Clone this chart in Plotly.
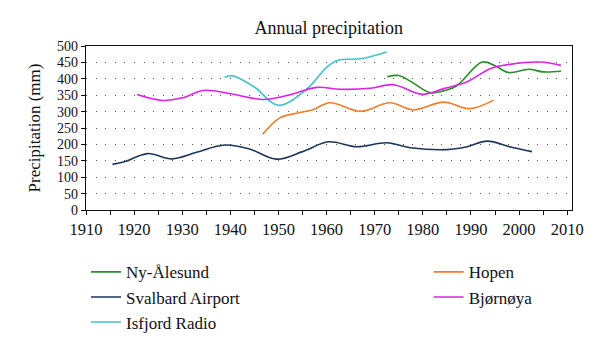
import plotly.graph_objects as go

# ---- data ----
ny_years = [1972.6, 1975, 1977.4, 1981.5, 1984, 1987, 1992.3, 1995, 1997.8, 2002, 2005, 2008.7]
ny_vals = [406, 410, 393, 358, 362, 378, 451, 440, 419, 429, 421, 423]

sv_years = [1915.5, 1918, 1922.8, 1927.9, 1933, 1938.8, 1944, 1949.6, 1955, 1960.4, 1966.3, 1972.5, 1977.4, 1985, 1989, 1993.4, 1998, 2002.7]
sv_vals = [139, 147, 172, 156, 176, 198, 186, 155, 178, 208, 193, 205, 190, 184, 192, 210, 193, 178]

is_years = [1938.8, 1940.5, 1945, 1950, 1956.2, 1960, 1962.5, 1967, 1972.5]
is_vals = [405, 409, 375, 319, 373, 435, 457, 461, 482]

ho_years = [1946.7, 1950.3, 1954.5, 1957, 1960.7, 1967, 1973.2, 1978, 1984.3, 1989.8, 1994.7]
ho_vals = [231, 281, 297, 305, 327, 301, 327, 305, 329, 309, 335]

bj_years = [1920.6, 1925.9, 1930, 1934.6, 1940.5, 1946.9, 1952, 1958, 1962.8, 1969, 1973.9, 1979.8, 1984.3, 1989.1, 1994, 1998.1, 2004.4, 2008.7]
bj_vals = [352, 334, 342, 365, 353, 337, 350, 374, 368, 371, 382, 353, 370, 390, 431, 444, 451, 441]

x_ticks = [1910, 1920, 1930, 1940, 1950, 1960, 1970, 1980, 1990, 2000, 2010]
x_labels = [str(v) for v in x_ticks]
y_ticks = [0, 50, 100, 150, 200, 250, 300, 350, 400, 450, 500]
y_labels = [str(v) for v in y_ticks]

FONT = "Liberation Serif"

series = [
    ("Ny-Ålesund", ny_years, ny_vals, "#2a8f2a", "legend"),
    ("Svalbard Airport", sv_years, sv_vals, "#1c3658", "legend"),
    ("Isfjord Radio", is_years, is_vals, "#45c4c4", "legend"),
    ("Hopen", ho_years, ho_vals, "#f07d2c", "legend2"),
    ("Bjørnøya", bj_years, bj_vals, "#dd22e6", "legend2"),
]

fig = go.Figure()
for i, (name, xs, ys, color, lg) in enumerate(series):
    fig.add_trace(go.Scatter(
        x=xs, y=ys, name=name, mode="lines",
        line=dict(color=color, width=1.6, shape="spline", smoothing=1.0),
        legend=lg, legendgroup=f"g{i}",
    ))

legend_common = dict(
    font=dict(family=FONT, size=17, color="#111"),
    bgcolor="rgba(0,0,0,0)", orientation="v",
    xanchor="left", yanchor="top", tracegroupgap=0,
    itemwidth=30,
)

fig.update_layout(
    width=600, height=350,
    margin=dict(l=86, r=28, t=46, b=140, autoexpand=False),
    paper_bgcolor="white", plot_bgcolor="white",
    title=dict(text="Annual precipitation", x=0.548, xanchor="center",
               y=1 - 28 / 350, yanchor="middle",
               font=dict(family=FONT, size=18, color="#111")),
    font=dict(family=FONT, color="#111"),
    legend=dict(x=0.0, y=-0.27, **legend_common),
    legend2=dict(x=0.705, y=-0.27, **legend_common),
    showlegend=True,
)

fig.update_xaxes(
    range=[1910, 2011], tickvals=x_ticks, ticktext=x_labels,
    showline=True, linecolor="#111", linewidth=1.3, mirror=True,
    ticks="outside", ticklen=4, tickcolor="#111",
    minor=dict(dtick=5, tick0=1910, ticks="outside", ticklen=4, tickcolor="#111", showgrid=False),
    showgrid=False, zeroline=False,
    tickfont=dict(family=FONT, size=16.5, color="#111"),
)
fig.update_yaxes(
    range=[0, 500], tickvals=y_ticks, ticktext=y_labels,
    showline=True, linecolor="#111", linewidth=1.3, mirror=True,
    ticks="outside", ticklen=4, tickcolor="#111",
    showgrid=True, gridcolor="#555", gridwidth=1, griddash="1px,8.6px",
    zeroline=False,
    tickfont=dict(family=FONT, size=14, color="#111"),
    title=dict(text="Precipitation (mm)", font=dict(family=FONT, size=17, color="#111"), standoff=12),
)

fig.write_html("out.html")
